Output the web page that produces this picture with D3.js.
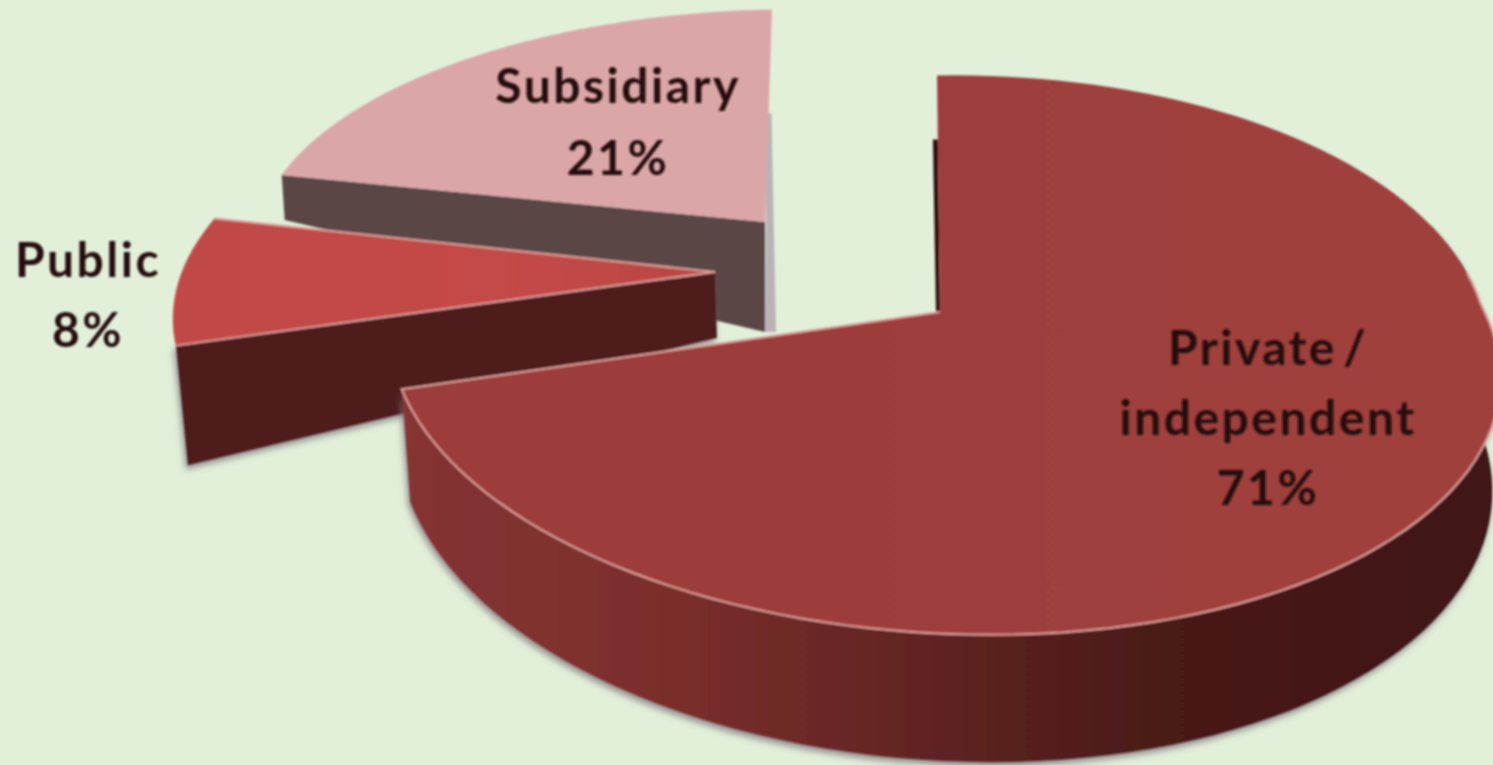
<!DOCTYPE html>
<html>
<head>
<meta charset="utf-8">
<script src="https://cdn.jsdelivr.net/npm/d3@7/dist/d3.min.js"></script>
<style>
  html, body { margin: 0; padding: 0; background: #e2f0da; overflow: hidden; }
  text { font-family: Lato, "Open Sans", sans-serif; font-weight: 700; fill: #26100f; }
</style>
</head>
<body>
<div id="container"></div>
<script>
const categories = ["Private / independent", "Public", "Subsidiary"];
const shares = [71, 8, 21];
const labelLines = [["Private /", "independent"], ["Public"], ["Subsidiary"]];

const width = 1493;
const height = 765;

// one projected disc per slice, the slices are pulled apart in perspective
const discs = [
  { cx: 940, cy: 312, rxLeft: 550, rxRight: 541, k: 273, p: 0.154, shear: -3, shearFront: 60, tilt: -7,
    top: "url(#privateTop)", wall: "url(#privateWall)", face: "#2e0f0e",
    apexDepth: 108, rimDepth: 108, faceDx: 0, label: [1268, 365, 70] },
  { cx: 715, cy: 272, rxLeft: 536, rxRight: 536, k: 255, p: 0.15, shear: 0, shearFront: 0, tilt: -8,
    top: "url(#publicTop)", wall: "#501a1a", face: "#501a1a",
    apexDepth: 66, rimDepth: 120, faceDx: 12, label: [88, 277, 70] },
  { cx: 765, cy: 222, rxLeft: 507, rxRight: 507, k: 223, p: 0.05, shear: 7, shearFront: 0, tilt: -8,
    top: "#dba6a8", wall: "#5a4644", face: "#5a4644",
    apexDepth: 110, rimDepth: 45, faceDx: 3, label: [618, 103, 72] }
];

const svg = d3.create("svg")
  .attr("width", width)
  .attr("height", height)
  .style("display", "block");

const defs = svg.append("defs");

const gradient = (id, stops, x1, x2) => {
  const g = defs.append("linearGradient")
    .attr("id", id)
    .attr("gradientUnits", "userSpaceOnUse")
    .attr("x1", x1).attr("x2", x2).attr("y1", 0).attr("y2", 0);
  stops.forEach(s => g.append("stop").attr("offset", s[0]).attr("stop-color", s[1]));
};
gradient("privateWall", [[0, "#853432"], [0.25, "#7a2e2c"], [0.5, "#5e2321"], [0.7, "#4a1a18"], [1, "#3f1513"]], 405, 1493);
gradient("privateTop", [[0, "#9c3d3a"], [1, "#a0403e"]], 405, 1493);
gradient("publicTop", [[0, "#c04846"], [0.6, "#c44a48"], [1, "#b94644"]], 175, 715);

const soft = defs.append("filter").attr("id", "soft");
soft.append("feGaussianBlur").attr("stdDeviation", 0.9);

const shadow = defs.append("filter").attr("id", "shadow")
  .attr("x", "-5%").attr("y", "-5%").attr("width", "110%").attr("height", "115%");
shadow.append("feDropShadow")
  .attr("dx", -2).attr("dy", 4).attr("stdDeviation", 3)
  .attr("flood-color", "#7d7078").attr("flood-opacity", 0.75);

const arcs = d3.pie().sort(null).value(d => d)(shares);

// angle is clockwise from 12 o'clock, frac goes from apex (0) to rim (1)
const project = (disc, angle, frac, drop = 0) => {
  const X = Math.sin(angle) * frac;
  const Y = -Math.cos(angle) * frac;
  const s = 1 / (1 - disc.p * Y);
  const rx = (X < 0 ? disc.rxLeft : disc.rxRight) * (drop ? 0.985 : 1); // bottom rim is a bit narrower
  return [
    disc.cx + X * rx * s - Y * disc.shear + Math.max(Y, 0) * disc.shearFront,
    disc.cy + Y * disc.k * s + disc.tilt * X + drop * s
  ];
};

const line = d3.line();
const sweep = (a0, a1) => d3.range(0, 121).map(i => a0 + (a1 - a0) * i / 120);

const chart = svg.append("g").attr("filter", "url(#soft)");

// back to front: subsidiary, public, private
[2, 1, 0].forEach(i => {
  const disc = discs[i];
  const arc = arcs[i];
  const g = chart.append("g").attr("class", "slice");
  const rim = sweep(arc.startAngle, arc.endAngle);
  const apex = project(disc, 0, 0);
  const topPts = [apex, ...rim.map(a => project(disc, a, 1))];

  if (i === 0) {
    // outer wall, only the front part of it shows below the top
    const front = rim.filter(a => a > Math.PI * 0.4);
    g.append("path")
      .attr("d", line([
        ...front.map(a => project(disc, a, 1)),
        ...front.slice().reverse().map(a => project(disc, a, 1, disc.rimDepth))
      ]) + "Z")
      .attr("fill", disc.wall)
      .attr("filter", "url(#shadow)");

    // thin dark strip of the inner side, next to the top edge
    const a = project(disc, arc.startAngle, 0.7);
    g.append("path")
      .attr("d", line([a, apex, [apex[0] - 4, apex[1]], [a[0] - 5, a[1]]]) + "Z")
      .attr("fill", disc.face);
  }

  if (i === 1) {
    // cut face of the public slice
    const a = project(disc, arc.startAngle, 1);
    g.append("path")
      .attr("d", line([
        a, apex,
        [apex[0] + 2, apex[1] + disc.apexDepth],
        [a[0] + disc.faceDx, a[1] + disc.rimDepth]
      ]) + "Z")
      .attr("fill", disc.face)
      .attr("filter", "url(#shadow)");
  }

  if (i === 2) {
    // grey strip behind the right hand edge
    const a = project(disc, arc.endAngle, 0.5);
    g.append("path")
      .attr("d", line([
        [a[0] - 2, a[1]], [a[0] + 3, a[1]],
        [apex[0] + 11, apex[1] + disc.apexDepth], [apex[0], apex[1] + disc.apexDepth]
      ]) + "Z")
      .attr("fill", "#b9b3b6");

    const b = project(disc, arc.startAngle, 1);
    g.append("path")
      .attr("d", line([
        b, apex,
        [apex[0], apex[1] + disc.apexDepth],
        [b[0] + disc.faceDx, b[1] + disc.rimDepth]
      ]) + "Z")
      .attr("fill", disc.face);
  }

  g.append("path")
    .attr("d", line(topPts) + "Z")
    .attr("fill", disc.top);

  // pale edge along the front of the top
  const edge = i === 0
    ? rim.filter(a => a > Math.PI * 0.45).map(a => project(disc, a, 1)).concat([apex])
    : i === 1
      ? [project(disc, arc.endAngle, 1), apex, project(disc, arc.startAngle, 1)]
      : [];
  if (edge.length) {
    g.append("path")
      .attr("d", line(edge))
      .attr("fill", "none")
      .attr("stroke", "#dc9d98")
      .attr("stroke-width", 2);
  }
});

const labels = svg.append("g").attr("filter", "url(#soft)");
discs.forEach((disc, i) => {
  const [x, y, step] = disc.label;
  const rows = [...labelLines[i], `${shares[i]}%`];
  labels.append("text")
    .attr("text-anchor", "middle")
    .attr("font-size", 48)
    .attr("letter-spacing", 2.5)
    .attr("word-spacing", -8)
    .selectAll("tspan")
    .data(rows)
    .join("tspan")
    .attr("x", x)
    .attr("y", (d, j) => y + j * step)
    .text(d => d);
});

d3.select("#container").append(() => svg.node());
</script>
</body>
</html>
